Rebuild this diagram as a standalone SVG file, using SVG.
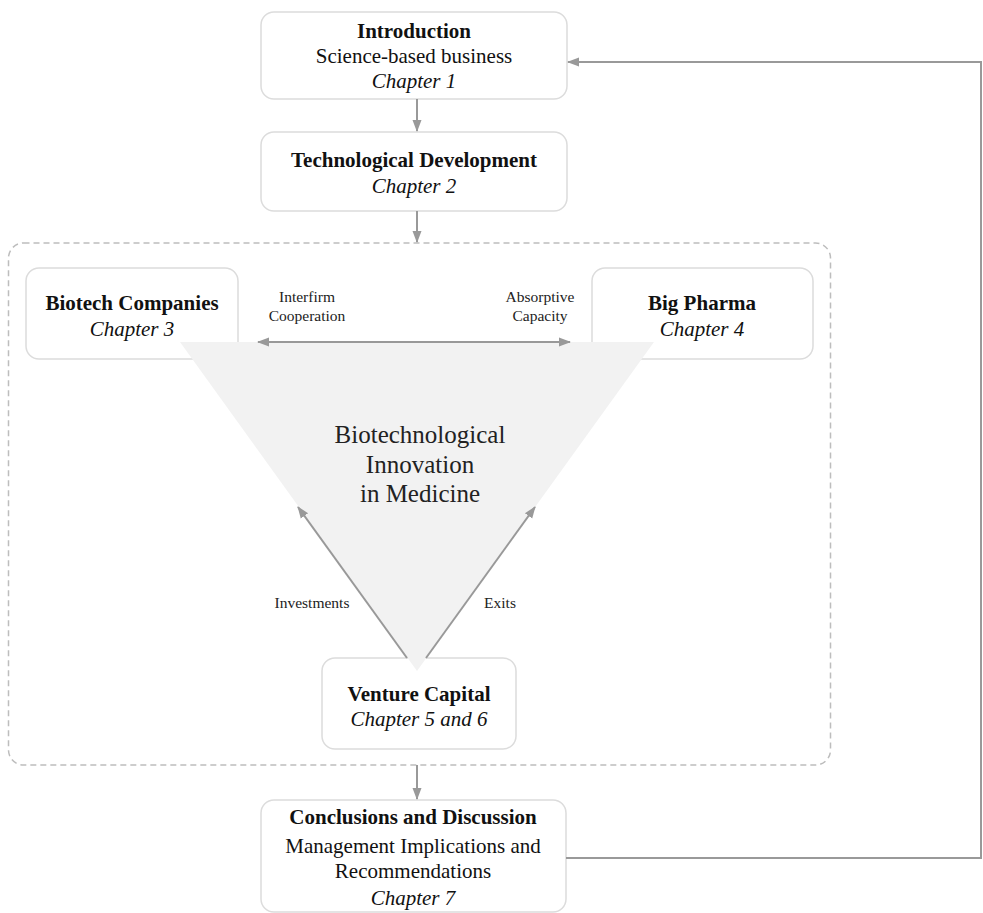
<svg xmlns="http://www.w3.org/2000/svg" width="983" height="913" viewBox="0 0 983 913">
<style>
.box{fill:#fff;stroke:#dcdcdc;stroke-width:1.5}
.t{font-family:"Liberation Serif","Times New Roman",serif;font-size:21px;fill:#111;text-anchor:middle}
.b{font-weight:bold}
.i{font-style:italic}
.s{font-family:"Liberation Serif","Times New Roman",serif;font-size:15.5px;fill:#222;text-anchor:middle}
.c{fill:none;stroke:#999;stroke-width:2}
</style>
<defs>
<marker id="ah" markerUnits="userSpaceOnUse" markerWidth="12" markerHeight="12" viewBox="0 0 12 12" refX="11" refY="6" orient="auto-start-reverse">
<path d="M0,1.5 L12,6 L0,10.5 Z" fill="#999"/>
</marker>
</defs>
<rect x="0" y="0" width="983" height="913" fill="#fff"/>
<g id="container">
<rect x="8.5" y="243" width="822" height="522" rx="15" fill="none" stroke="#bdbdbd" stroke-width="1.5" stroke-dasharray="6 4"/>
</g>
<g id="intro">
<rect class="box" x="261" y="12" width="306" height="87" rx="13"/>
<text class="t b" x="414" y="38">Introduction</text>
<text class="t" x="414" y="63">Science-based business</text>
<text class="t i" x="414" y="88">Chapter 1</text>
</g>
<g id="techdev">
<rect class="box" x="261" y="132" width="306" height="79" rx="13"/>
<text class="t b" x="414" y="167">Technological Development</text>
<text class="t i" x="414" y="193">Chapter 2</text>
</g>
<g id="biotech">
<rect class="box" x="26" y="268" width="212" height="91" rx="13"/>
<text class="t b" x="132" y="310">Biotech Companies</text>
<text class="t i" x="132" y="336">Chapter 3</text>
</g>
<g id="bigpharma">
<rect class="box" x="592" y="268" width="221" height="91" rx="13"/>
<text class="t b" x="702" y="310">Big Pharma</text>
<text class="t i" x="702" y="336">Chapter 4</text>
</g>
<g id="vc">
<rect class="box" x="322" y="658" width="194" height="91" rx="13"/>
<text class="t b" x="419" y="701">Venture Capital</text>
<text class="t i" x="419" y="726">Chapter 5 and 6</text>
</g>
<g id="conclusions">
<rect class="box" x="261" y="800" width="305" height="112" rx="13"/>
<text class="t b" x="413" y="824">Conclusions and Discussion</text>
<text class="t" x="413" y="853">Management Implications and</text>
<text class="t" x="413" y="878">Recommendations</text>
<text class="t i" x="413" y="905">Chapter 7</text>
</g>
<g id="innovation">
<polygon points="180,342 654,342 417,671" fill="#f2f2f2"/>
<text x="420" y="443" style="font-family:'Liberation Serif','Times New Roman',serif;font-size:25px;fill:#222;text-anchor:middle"><tspan x="420" y="443">Biotechnological</tspan><tspan x="420" y="473">Innovation</tspan><tspan x="420" y="502">in Medicine</tspan></text>
</g>
<g id="connectors">
<line class="c" x1="417" y1="99" x2="417" y2="131" marker-end="url(#ah)"/>
<line class="c" x1="417" y1="211" x2="417" y2="242" marker-end="url(#ah)"/>
<line class="c" x1="417" y1="765" x2="417" y2="799" marker-end="url(#ah)"/>
<polyline class="c" points="566,858 981,858 981,62 568,62" marker-end="url(#ah)"/>
<line class="c" x1="258" y1="342" x2="570" y2="342" marker-start="url(#ah)" marker-end="url(#ah)"/>
<line class="c" x1="407" y1="658" x2="298" y2="507" marker-end="url(#ah)"/>
<line class="c" x1="426" y1="658" x2="535" y2="507" marker-end="url(#ah)"/>
<text class="s" x="307" y="302">Interfirm</text>
<text class="s" x="307" y="321">Cooperation</text>
<text class="s" x="540" y="302">Absorptive</text>
<text class="s" x="540" y="321">Capacity</text>
<text class="s" x="312" y="608">Investments</text>
<text class="s" x="500" y="608">Exits</text>
</g>
</svg>
